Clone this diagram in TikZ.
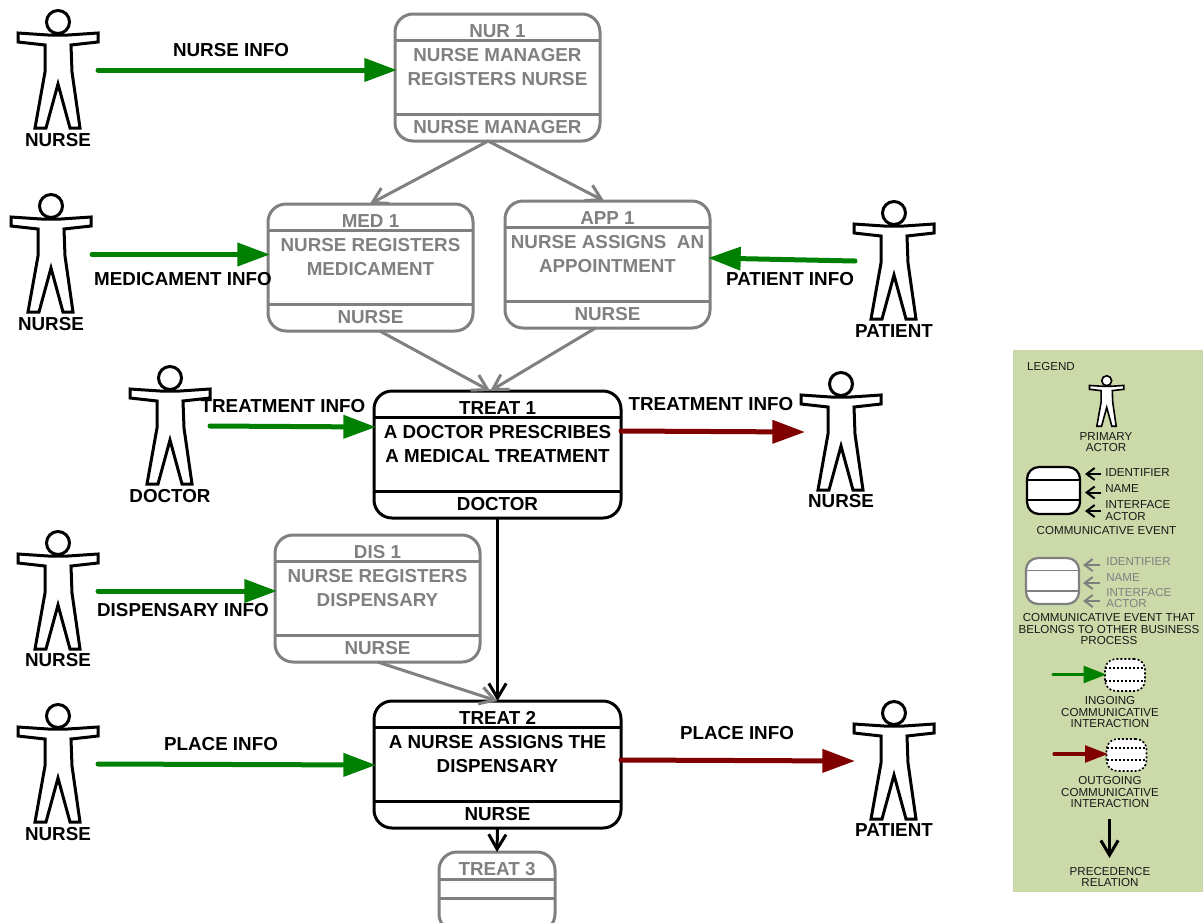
\documentclass[tikz,border=0pt]{standalone}
\usepackage{fontspec}
\setmainfont{Liberation Sans}
\usetikzlibrary{arrows.meta}
\definecolor{grayc}{HTML}{808080}
\definecolor{greenc}{HTML}{008000}
\definecolor{redc}{HTML}{800000}
\definecolor{legendc}{HTML}{CCD9A8}
\tikzset{
  x=0.75pt,y=-0.75pt,
  boxbase/.style={draw,fill=white,rectangle,rounded corners=13.5pt,line width=2.25pt,inner sep=0,outer sep=0,anchor=north west},
  maintxt/.style={font=\bfseries\fontsize{14.1}{18}\selectfont,align=center,inner sep=0,text depth=0pt,yshift=-0.5pt},
  legtxt/.style={font=\fontsize{8.7}{8.7}\selectfont,align=center,inner sep=0,text=black!90},
  legleft/.style={legtxt,anchor=west,align=left},
  flowin/.style={draw=greenc,line width=3.75pt,line cap=round,shorten >=-1.5pt,-{Triangle[length=24.5pt,width=17pt]}},
  flowout/.style={draw=redc,line width=3.75pt,line cap=round,shorten >=-1.5pt,-{Triangle[length=24.5pt,width=17pt]}},
  legin/.style={draw=greenc,line width=2.4pt,line cap=round,shorten >=-1pt,-{Triangle[length=17pt,width=12.5pt]}},
  legout/.style={draw=redc,line width=2.4pt,line cap=round,shorten >=-1pt,-{Triangle[length=17pt,width=12.5pt]}},
  precede/.style={draw=black,line width=2.25pt,-{Straight Barb[length=11pt,width=13pt,line width=2.25pt]}},
  precedegray/.style={draw=grayc,line width=2.25pt,-{Straight Barb[length=11pt,width=13pt,line width=2.25pt]}},
  legptr/.style={line width=1.5pt,-{Straight Barb[length=6pt,width=9pt,line width=1.5pt]}},
  dotline/.style={line width=1.2pt,dash pattern=on 1.5pt off 1.5pt},
  dotbox/.style={boxbase,dotline,rounded corners=8pt,minimum width=30pt,minimum height=24pt},
  actorlw/.initial=2.25pt,
  actor/.pic={
    \draw[line width=\pgfkeysvalueof{/tikz/actorlw},fill=white,line join=miter]
      (-40,11) -- (-10,13) -- (10,13) -- (40,11) -- (40,20) -- (13,23) -- (14,50)
      -- (22,106) -- (12,106) -- (0,62) -- (-12,106) -- (-23,106) -- (-13,50) -- (-13,23) -- (-40,20) -- cycle;
    \draw[line width=\pgfkeysvalueof{/tikz/actorlw},fill=white] (0,0) circle [radius=11.5];
  },
}
\newcommand{\evbox}[8]{%
  \pgfmathsetlengthmacro{\evw}{#4*0.75pt}%
  \node[boxbase,draw=#5,minimum width=\evw,minimum height=95.25pt] (#1) at (#2,#3) {};
  \draw[draw=#5,line width=2.25pt] ([yshift=-19.5pt]#1.north west) -- ([yshift=-19.5pt]#1.north east);
  \draw[draw=#5,line width=2.25pt] ([yshift=-75pt]#1.north west) -- ([yshift=-75pt]#1.north east);
  \node[maintxt,text=#5] (#1-id) at ([yshift=-12pt]#1.north) {#6};
  \node[maintxt,text=#5] (#1-name) at ([yshift=-39pt]#1.north) {#7};
  \node[maintxt,text=#5] (#1-actor) at ([yshift=-84pt]#1.north) {#8};
}
\newcommand{\person}[5]{%
  \pic at (#2,#3) {actor};
  \node[maintxt] (#1) at (#2,#4) {#5};
}
\begin{document}
\begin{tikzpicture}
\useasboundingbox (0,0) rectangle (1203,922);
\clip (0,0) rectangle (1203,922);

% legend panel
\node[fill=legendc,inner sep=0,outer sep=0,anchor=north west,minimum width=142.5pt,minimum height=406.5pt] (legend) at (1013,350) {};

% actors
\person{a1}{58}{22}{139}{NURSE}
\person{a2}{51}{206}{323}{NURSE}
\person{a3}{894}{213}{330}{PATIENT}
\person{a4}{170}{378}{495}{DOCTOR}
\person{a5}{841}{384}{500}{NURSE}
\person{a6}{58}{543}{659}{NURSE}
\person{a7}{58}{716}{833}{NURSE}
\person{a8}{894}{713}{829}{PATIENT}

% events
\evbox{nur1}{395}{14}{205}{grayc}{NUR 1}{NURSE MANAGER\\REGISTERS NURSE}{NURSE MANAGER}
\evbox{med1}{268}{204}{205}{grayc}{MED 1}{NURSE REGISTERS\\MEDICAMENT}{NURSE}
\evbox{app1}{505}{201}{205}{grayc}{APP 1}{NURSE ASSIGNS\ \ AN\\APPOINTMENT}{NURSE}
\evbox{treat1}{374}{391}{247}{black}{TREAT 1}{A DOCTOR PRESCRIBES\\A MEDICAL TREATMENT}{DOCTOR}
\evbox{dis1}{275}{535}{205}{grayc}{DIS 1}{NURSE REGISTERS\\DISPENSARY}{NURSE}
\evbox{treat2}{374}{701}{247}{black}{TREAT 2}{A NURSE ASSIGNS THE\\DISPENSARY}{NURSE}

% treat 3, cut by the lower edge
\node[boxbase,draw=grayc,minimum width=87pt,minimum height=60pt] (treat3) at (439,852) {};
\draw[draw=grayc,line width=2.25pt] ([yshift=-20.5pt]treat3.north west) -- ([yshift=-20.5pt]treat3.north east);
\draw[draw=grayc,line width=2.25pt] ([yshift=-34.5pt]treat3.north west) -- ([yshift=-34.5pt]treat3.north east);
\node[maintxt,text=grayc] (treat3-id) at ([yshift=-12.5pt]treat3.north) {TREAT 3};

% precedence
\draw[precedegray] ([xshift=-7pt]nur1.south) -- ([xshift=-0.5pt]med1.north);
\draw[precedegray] ([xshift=-7pt]nur1.south) -- ([xshift=-2.5pt]app1.north);
\draw[precedegray] ([xshift=7pt]med1.south) -- ([xshift=-5.5pt]treat1.north);
\draw[precedegray] ([xshift=-9pt]app1.south) -- ([xshift=-5.5pt]treat1.north);
\draw[precedegray] (dis1.south) -- (treat2.north);
\draw[precede] (treat1.south) -- (treat2.north);
\draw[precede] (treat2.south) -- (treat3.north);

% interactions
\coordinate (s1) at (98,70);
\coordinate (s2) at (92,254.5);
\coordinate (s3) at (855,261);
\coordinate (s4) at (210,426);
\coordinate (s5) at (803,432);
\coordinate (s6) at (98,591);
\coordinate (s7) at (98,764);
\coordinate (s8) at (853,761);
\draw[flowin] (s1) -- (nur1.west |- s1);
\draw[flowin] (s2) -- (med1.west |- s2);
\draw[flowin] (s3) -- ([yshift=2.25pt]app1.east |- s3);
\draw[flowin] (s4) -- ([yshift=-0.75pt]treat1.west |- s4);
\draw[flowout] ([yshift=0.75pt]treat1.east |- s5) -- (s5);
\draw[flowin] (s6) -- (dis1.west |- s6);
\draw[flowin] (s7) -- ([yshift=-0.75pt]treat2.west |- s7);
\draw[flowout] ([yshift=0.75pt]treat2.east |- s8) -- (s8);

% interaction labels
\node[maintxt] (l1) at (231,49) {NURSE INFO};
\node[maintxt] (l2) at (183,278) {MEDICAMENT INFO};
\node[maintxt] (l3) at (790,278) {PATIENT INFO};
\node[maintxt] (l4) at (283,405) {TREATMENT INFO};
\node[maintxt] (l5) at (711,403) {TREATMENT INFO};
\node[maintxt] (l6) at (183,609) {DISPENSARY INFO};
\node[maintxt] (l7) at (221,743) {PLACE INFO};
\node[maintxt] (l8) at (737,732) {PLACE INFO};

% legend contents
\node[legtxt] (lg0) at (1051,366) {LEGEND};
\pic[scale=0.43,actorlw=1.2pt] at (1106.7,380.7) {actor};
\node[legtxt] (lg1) at (1106,442) {PRIMARY\\ACTOR};

\node[boxbase,draw=black,line width=1.7pt,rounded corners=9pt,minimum width=39.75pt,minimum height=35.25pt] (lb1) at (1027,467) {};
\draw[line width=1.5pt] ([yshift=-9.75pt]lb1.north west) -- ([yshift=-9.75pt]lb1.north east);
\draw[line width=1.5pt] ([yshift=-24.75pt]lb1.north west) -- ([yshift=-24.75pt]lb1.north east);
\node[legleft] (lt1) at (1105,472) {IDENTIFIER};
\node[legleft] (lt2) at (1105,488) {NAME};
\node[legleft] (lt3) at (1105,510.5) {INTERFACE\\ACTOR};
\coordinate (p1) at (1101,474);
\coordinate (p2) at (1101,492.5);
\coordinate (p3) at (1101,511);
\draw[legptr] (p1) -- ([xshift=3.75pt]lb1.east |- p1);
\draw[legptr] (p2) -- ([xshift=3.75pt]lb1.east |- p2);
\draw[legptr] (p3) -- ([xshift=3.75pt]lb1.east |- p3);
\node[legtxt] (lg2) at (1106.5,530) {COMMUNICATIVE EVENT};

\node[boxbase,draw=grayc,line width=1.7pt,rounded corners=9pt,minimum width=39.75pt,minimum height=34.5pt] (lb2) at (1026,558) {};
\draw[draw=grayc,line width=1.2pt] ([yshift=-9.5pt]lb2.north west) -- ([yshift=-9.5pt]lb2.north east);
\draw[draw=grayc,line width=1.2pt] ([yshift=-24.75pt]lb2.north west) -- ([yshift=-24.75pt]lb2.north east);
\node[legleft,text=grayc] (lt4) at (1106,561) {IDENTIFIER};
\node[legleft,text=grayc] (lt5) at (1106,577) {NAME};
\node[legleft,text=grayc] (lt6) at (1106,598) {INTERFACE\\ACTOR};
\coordinate (p4) at (1100,565);
\coordinate (p5) at (1100,583);
\coordinate (p6) at (1100,601);
\draw[legptr,draw=grayc] (p4) -- ([xshift=3pt]lb2.east |- p4);
\draw[legptr,draw=grayc] (p5) -- ([xshift=3pt]lb2.east |- p5);
\draw[legptr,draw=grayc] (p6) -- ([xshift=3pt]lb2.east |- p6);
\node[legtxt] (lg3) at (1109,629) {COMMUNICATIVE EVENT THAT\\BELONGS TO OTHER BUSINESS\\PROCESS};

\node[dotbox] (lb3) at (1105,659) {};
\draw[dotline] ([yshift=-6.75pt]lb3.north west) -- ([yshift=-6.75pt]lb3.north east);
\draw[dotline] ([yshift=-16.5pt]lb3.north west) -- ([yshift=-16.5pt]lb3.north east);
\coordinate (p7) at (1053,674.5);
\draw[legin] (p7) -- (lb3.west |- p7);
\node[legtxt] (lg4) at (1110,712) {INGOING\\COMMUNICATIVE\\INTERACTION};

\node[dotbox] (lb4) at (1106.5,739) {};
\draw[dotline] ([yshift=-6.75pt]lb4.north west) -- ([yshift=-6.75pt]lb4.north east);
\draw[dotline] ([yshift=-15.75pt]lb4.north west) -- ([yshift=-15.75pt]lb4.north east);
\coordinate (p8) at (1054,754);
\draw[legout] (p8) -- (lb4.west |- p8);
\node[legtxt] (lg5) at (1110,792) {OUTGOING\\COMMUNICATIVE\\INTERACTION};

\coordinate (p9) at (1109.5,819);
\coordinate (p10) at (1109.5,858);
\draw[precede] (p9) -- (p10);
\node[legtxt] (lg6) at (1110,877) {PRECEDENCE\\RELATION};
\end{tikzpicture}
\end{document}
